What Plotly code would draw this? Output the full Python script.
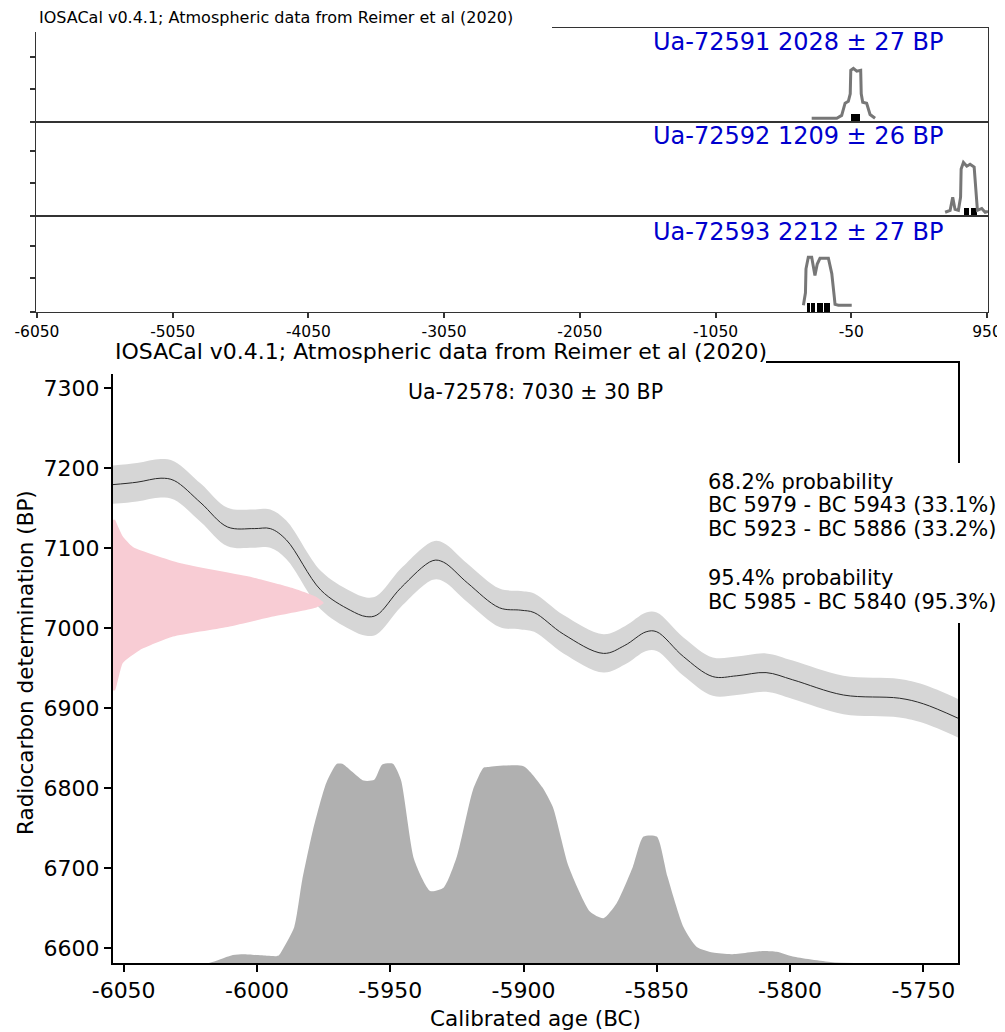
import plotly.graph_objects as go

# the page body adds an 8px margin, so the figure is made 8px smaller and
# every pixel position below is measured on the 1005x1032 reference picture
OFF = 8
W, H = 1005 - OFF, 1032 - OFF
FONT = "DejaVu Sans"

# ---- top figure: three dates on one axis ----
top_ticks = [-6050, -5050, -4050, -3050, -2050, -1050, -50, 950]
top_range = [-6057, 957]
top_labels = ["Ua-72591 2028 ± 27 BP", "Ua-72592 1209 ± 26 BP", "Ua-72593 2212 ± 27 BP"]

d1_x = [-342, -157, -121, -96, -72, -58, -54, -35, -10, 19, 23, 34, 63, 88, 125]
d1_y = [0.04, 0.04, 0.07, 0.20, 0.22, 0.30, 0.55, 0.57, 0.54, 0.55, 0.30, 0.21, 0.20, 0.08, 0.04]
d1_hpd = [(-50, 12)]

d2_x = [641, 678, 697, 714, 739, 755, 759, 776, 801, 825, 855, 875, 879, 911, 936, 957]
d2_y = [0.04, 0.06, 0.20, 0.07, 0.06, 0.20, 0.50, 0.57, 0.53, 0.55, 0.52, 0.20, 0.06, 0.08, 0.04, 0.05]
d2_hpd = [(781, 820), (830, 879)]

d3_x = [-403, -388, -384, -367, -342, -318, -301, -281, -219, -194, -175, -170, -145, -47]
d3_y = [0.07, 0.20, 0.45, 0.57, 0.57, 0.38, 0.50, 0.56, 0.56, 0.40, 0.15, 0.08, 0.07, 0.07]
d3_hpd = [(-378, -352), (-345, -315), (-305, -262), (-252, -210)]

# ---- bottom figure: Ua-72578 ----
sample = "Ua-72578: 7030 ± 30 BP"
bot_xrange = [-6054, -5737]
bot_yrange = [6581, 7331]
bot_xticks = [-6050, -6000, -5950, -5900, -5850, -5800, -5750]
bot_yticks = [6600, 6700, 6800, 6900, 7000, 7100, 7200, 7300]

curve_x = [-6054, -6045, -6036, -6031, -6021, -6011, -6001, -5995, -5989, -5976, -5965,
           -5959, -5955, -5946, -5934, -5930, -5921, -5909, -5901, -5896, -5885, -5870,
           -5862, -5854, -5850, -5840, -5829, -5820, -5809, -5799, -5780, -5759, -5750, -5737]
curve_y = [7179, 7182, 7187, 7184, 7156, 7126, 7124, 7124, 7110, 7047, 7022,
           7014, 7016, 7050, 7084, 7082, 7056, 7025, 7022, 7019, 6992, 6968,
           6978, 6995, 6995, 6964, 6939, 6940, 6944, 6935, 6916, 6912, 6905, 6887]
curve_err = 24

# measured date profile (BP level, width in years from the left edge)
meas_y = [7135, 7114, 7101, 7081, 7064, 7050, 7039, 7031, 7025, 7014, 7001, 6989, 6972, 6956, 6922]
meas_w = [0.8, 3.7, 7.5, 25, 51, 67, 76, 79, 76, 60, 43, 22.5, 10, 3.7, 0.8]

dist_x = [-6018, -6016, -6009, -6005, -5996, -5992, -5990, -5986, -5983, -5979, -5974,
          -5970, -5968, -5960, -5956, -5953, -5949, -5946, -5941, -5935, -5930, -5925,
          -5919, -5915, -5913, -5900, -5893, -5889, -5883, -5875, -5870, -5865, -5859,
          -5855, -5850, -5846, -5840, -5835, -5829, -5822, -5810, -5805, -5799, -5784, -5738]
dist_y = [6581, 6583, 6591, 6592, 6590, 6590, 6600, 6626, 6685, 6747, 6806,
          6830, 6830, 6809, 6810, 6829, 6830, 6810, 6710, 6671, 6675, 6714,
          6797, 6825, 6826, 6827, 6801, 6776, 6701, 6645, 6637, 6656, 6701,
          6739, 6739, 6689, 6626, 6601, 6594, 6592, 6596, 6595, 6589, 6582, 6581]

hpd95 = [(-5985, -5840)]
hpd68 = [(-5979, -5943), (-5923, -5886)]
prob_text = ["68.2% probability", "BC 5979 - BC 5943 (33.1%)", "BC 5923 - BC 5886 (33.2%)",
             "95.4% probability", "BC 5985 - BC 5840 (95.3%)"]


def px(x):
    return (x - OFF) / W


def py(y):
    return 1 - (y - OFF) / H


fig = go.Figure()

# top panels
panels = [(d1_x, d1_y, d1_hpd), (d2_x, d2_y, d2_hpd), (d3_x, d3_y, d3_hpd)]
for i, (xs, ys, hpd) in enumerate(panels):
    xa = "x" if i == 0 else f"x{i + 1}"
    ya = "y" if i == 0 else f"y{i + 1}"
    fig.add_trace(go.Bar(orientation="h", y=[0.045] * len(hpd), x=[b - a for a, b in hpd],
                         base=[a for a, b in hpd], width=0.09, marker_color="black",
                         marker_line_width=0, xaxis=xa, yaxis=ya, showlegend=False))
    fig.add_trace(go.Scatter(x=xs, y=ys, mode="lines", line=dict(color="#777777", width=3),
                             xaxis=xa, yaxis=ya, showlegend=False))

# bottom panel
fig.add_trace(go.Scatter(x=dist_x, y=dist_y, mode="lines", fill="tozeroy", fillcolor="#b0b0b0",
                         line=dict(width=0, shape="spline", smoothing=0.6),
                         xaxis="x4", yaxis="y4", showlegend=False))
fig.add_trace(go.Bar(orientation="h", y=[6588] * len(hpd95), x=[b - a for a, b in hpd95],
                     base=[a for a, b in hpd95], width=14, marker_color="#555555",
                     marker_line_width=0, xaxis="x4", yaxis="y4", showlegend=False))
fig.add_trace(go.Bar(orientation="h", y=[6588] * len(hpd68), x=[b - a for a, b in hpd68],
                     base=[a for a, b in hpd68], width=14, marker_color="#2a2a2a",
                     marker_line_width=0, xaxis="x4", yaxis="y4", showlegend=False))
fig.add_trace(go.Scatter(x=curve_x, y=[v + curve_err for v in curve_y], mode="lines",
                         line=dict(width=0, color="#d6d6d6", shape="spline"), xaxis="x4", yaxis="y4",
                         showlegend=False))
fig.add_trace(go.Scatter(x=curve_x, y=[v - curve_err for v in curve_y], mode="lines",
                         fill="tonexty", fillcolor="#d6d6d6",
                         line=dict(width=0, color="#d6d6d6", shape="spline"),
                         xaxis="x4", yaxis="y4", showlegend=False))
fig.add_trace(go.Scatter(x=curve_x, y=curve_y, mode="lines",
                         line=dict(color="#2a2a2a", width=1, shape="spline"),
                         xaxis="x4", yaxis="y4", showlegend=False))
x0 = bot_xrange[0]
fig.add_trace(go.Scatter(x=[x0 + w for w in meas_w] + [x0, x0], y=meas_y + [meas_y[-1], meas_y[0]],
                         mode="lines", fill="toself", fillcolor="#f8ccd4",
                         line=dict(width=0, shape="spline", smoothing=0.5),
                         xaxis="x4", yaxis="y4", showlegend=False))

ax = dict(showline=True, mirror=True, linecolor="#333333", linewidth=1, showgrid=False,
          zeroline=False, ticks="outside", tickcolor="#333333", tickwidth=1.5, automargin=False,
          ticklabeloverflow="allow", tickfont=dict(family=FONT, size=15.5, color="black"))

ydoms = [(28, 122), (122, 216), (216, 312)]
layout = dict(width=W, height=H, margin=dict(l=0, r=0, t=0, b=0, autoexpand=False),
              paper_bgcolor="white", plot_bgcolor="white", barmode="overlay", bargap=0)
for i, (t, b) in enumerate(ydoms):
    sx = "" if i == 0 else str(i + 1)
    xa = dict(ax, domain=[px(36), px(988)], range=top_range, anchor="y" + sx,
              tickvals=top_ticks, ticktext=[str(v) for v in top_ticks], ticklen=5)
    if i < 2:
        xa.update(ticks="", showticklabels=False, matches="x3")
    layout["xaxis" + sx] = xa
    layout["yaxis" + sx] = dict(ax, domain=[py(b), py(t)], range=[0, 1], anchor="x" + sx,
                                tickvals=[0, 0.35, 0.69], showticklabels=False, ticklen=5)

bax = dict(ax, linecolor="black", linewidth=2, tickcolor="black", ticklen=7,
           tickfont=dict(family=FONT, size=22, color="black"))
layout["xaxis4"] = dict(bax, domain=[px(113), px(958)], range=bot_xrange, anchor="y4",
                        tickvals=bot_xticks, ticktext=[str(v) for v in bot_xticks])
layout["yaxis4"] = dict(bax, domain=[py(963), py(363)], range=bot_yrange, anchor="x4",
                        tickvals=bot_yticks, ticktext=[str(v) for v in bot_yticks])
fig.update_layout(**layout)

# white boxes behind the titles and the probability text
shapes = [
    dict(x0=px(30), x1=px(552), y0=py(32), y1=py(OFF)),
    dict(x0=px(105), x1=px(766), y0=py(374), y1=py(345)),
    dict(x0=px(700), x1=px(1005), y0=py(623), y1=py(463)),
]
for s in shapes:
    fig.add_shape(type="rect", xref="paper", yref="paper", fillcolor="white",
                  line=dict(width=0), layer="above", **s)

ann = []
ann.append(dict(text="IOSACal v0.4.1; Atmospheric data from Reimer et al (2020)", x=px(37), y=py(17),
                xanchor="left", yanchor="middle", font=dict(size=16)))
for lbl, yc in zip(top_labels, [42, 136, 232]):
    ann.append(dict(text=lbl, x=px(945), y=py(yc), xanchor="right", yanchor="middle",
                    font=dict(size=24, color="#0000cd")))
ann.append(dict(text="IOSACal v0.4.1; Atmospheric data from Reimer et al (2020)", x=px(113), y=py(351),
                xanchor="left", yanchor="middle", font=dict(size=22)))
ann.append(dict(text=sample, x=px(535.5), y=py(392), xanchor="center", yanchor="middle",
                font=dict(size=20.5)))
for t, yc in zip(prob_text, [482, 505, 529, 578, 602]):
    ann.append(dict(text=t, x=px(706), y=py(yc), xanchor="left", yanchor="middle",
                    font=dict(size=21)))
ann.append(dict(text="Radiocarbon determination (BP)", x=px(25), y=py(663), textangle=-90,
                xanchor="center", yanchor="middle", font=dict(size=21.5)))
ann.append(dict(text="Calibrated age (BC)", x=px(535), y=py(1018), xanchor="center",
                yanchor="middle", font=dict(size=21.5)))
for a in ann:
    a["font"] = dict(dict(family=FONT, color="black"), **a["font"])
    fig.add_annotation(xref="paper", yref="paper", showarrow=False, **a)

fig.write_html("out.html")
